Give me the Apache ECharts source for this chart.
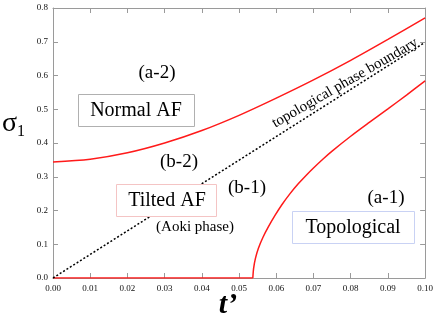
<!DOCTYPE html>
<html>
<head>
<meta charset="utf-8">
<script src="https://cdn.jsdelivr.net/npm/echarts@6/dist/echarts.min.js"></script>
<style>html,body{margin:0;padding:0;background:#fff}#c{width:436px;height:328px}</style>
</head>
<body>
<div id="c"></div>
<script>
// data
var xTicks = [0.00,0.01,0.02,0.03,0.04,0.05,0.06,0.07,0.08,0.09,0.10];
var yTicks = [0.0,0.1,0.2,0.3,0.4,0.5,0.6,0.7,0.8];
var upperT = [0, 0.01, 0.02, 0.03, 0.04, 0.05, 0.06, 0.07, 0.08, 0.09, 0.10];
var upperS = [0.344, 0.352, 0.371, 0.400, 0.437, 0.482, 0.533, 0.587, 0.645, 0.707, 0.771];
var flatT = [0, 0.0537];
var flatS = [0, 0];
var lowerT = [0.0537, 0.0539, 0.0544, 0.0552, 0.0564, 0.0579, 0.0597, 0.0615, 0.0637, 0.0659, 0.0680, 0.0700, 0.0725, 0.0750, 0.0800, 0.0850, 0.0900, 0.0950, 0.1000];
var lowerS = [0.000, 0.028, 0.058, 0.088, 0.120, 0.152, 0.186, 0.217, 0.250, 0.279, 0.304, 0.326, 0.352, 0.376, 0.420, 0.461, 0.501, 0.542, 0.584];
var boundaryT = [0, 0.0995];
var boundaryS = [0, 0.695];

function pairs(a, b) { return a.map(function (v, i) { return [v, b[i]]; }); }

var chart = echarts.init(document.getElementById('c'), null, {renderer: 'canvas'});
var serif = 'Liberation Serif';
var axisCol = '#9a9a9a';
var xCommon = {type: 'value', min: xTicks[0], max: xTicks[xTicks.length - 1], interval: 0.01,
  axisLine: {show: true, onZero: false, lineStyle: {color: axisCol, width: 1}},
  axisTick: {show: true, inside: true, length: 5, lineStyle: {color: axisCol}},
  splitLine: {show: false}};
var yCommon = {type: 'value', min: yTicks[0], max: yTicks[yTicks.length - 1], interval: 0.1,
  axisLine: {show: true, onZero: false, lineStyle: {color: axisCol, width: 1}},
  axisTick: {show: true, inside: true, length: 5, lineStyle: {color: axisCol}},
  splitLine: {show: false}};

chart.setOption({
  animation: false,
  grid: {left: 53, right: 7, top: 8, bottom: 50, containLabel: false},
  xAxis: [
    Object.assign({}, xCommon, {position: 'bottom',
      axisLabel: {show: true, margin: 6, color: '#111', fontFamily: serif, fontSize: 9,
        formatter: function (v) { return v.toFixed(2); }}}),
    Object.assign({}, xCommon, {position: 'top', axisLabel: {show: false}})
  ],
  yAxis: [
    Object.assign({}, yCommon, {position: 'left',
      axisLabel: {show: true, margin: 5, color: '#111', fontFamily: serif, fontSize: 9,
        formatter: function (v) { return v.toFixed(1); }}}),
    Object.assign({}, yCommon, {position: 'right', axisLabel: {show: false}})
  ],
  series: [
    {type: 'line', data: pairs(upperT, upperS), smooth: 0.3, showSymbol: false,
      lineStyle: {color: '#ff1a1a', width: 1.5}},
    {type: 'line', data: pairs(flatT, flatS), showSymbol: false,
      lineStyle: {color: '#ff1a1a', width: 1.5}},
    {type: 'line', data: pairs(lowerT, lowerS), smooth: 0.3, showSymbol: false,
      lineStyle: {color: '#ff1a1a', width: 1.5}},
    {type: 'line', data: pairs(boundaryT, boundaryS), showSymbol: false,
      lineStyle: {color: '#000', width: 1.5, type: [2, 2]}}
  ]
});

function txt(x, y, s, size, extra) {
  return Object.assign({type: 'text', x: x, y: y, z: 10,
    style: {text: s, fill: '#000', font: size + 'px "' + serif + '"', align: 'center', verticalAlign: 'middle'}}, extra || {});
}
function box(x, y, w, h, col) {
  return {type: 'rect', shape: {x: x, y: y, width: w, height: h}, z: 9,
    style: {fill: '#fff', stroke: col, lineWidth: 1}};
}

chart.setOption({
  graphic: [
    txt(157, 73, '(a-2)', 19),
    box(78.5, 94.5, 116, 32, '#b0b0b0'),
    txt(136, 111, 'Normal AF', 20),
    txt(179, 162, '(b-2)', 19),
    box(116.5, 184.5, 100, 32, '#f4c4c4'),
    txt(167, 201, 'Tilted AF', 20),
    txt(247, 188, '(b-1)', 19),
    txt(195, 227, '(Aoki phase)', 15),
    txt(386, 198, '(a-1)', 19),
    box(292.5, 211.5, 122, 32, '#c9d2f4'),
    txt(353, 228, 'Topological', 20),
    {type: 'text', x: 345, y: 83, rotation: 30 * Math.PI / 180, z: 10,
      style: {text: 'topological phase boundary', fill: '#000', font: '15px "' + serif + '"', align: 'center', verticalAlign: 'middle'}},
    {type: 'text', x: 2, y: 124, z: 10,
      style: {text: '{a|σ}{b|1}', verticalAlign: 'middle', rich: {
        a: {fontFamily: serif, fontSize: 28, fill: '#000', verticalAlign: 'bottom'},
        b: {fontFamily: serif, fontSize: 16, fill: '#000', verticalAlign: 'bottom', padding: [0, 0, -2, 0]}}}},
    {type: 'text', x: 228, y: 305, z: 10,
      style: {text: 't’', fill: '#000', font: 'italic bold 30px "' + serif + '"', align: 'center', verticalAlign: 'middle'}}
  ]
});
</script>
</body>
</html>
